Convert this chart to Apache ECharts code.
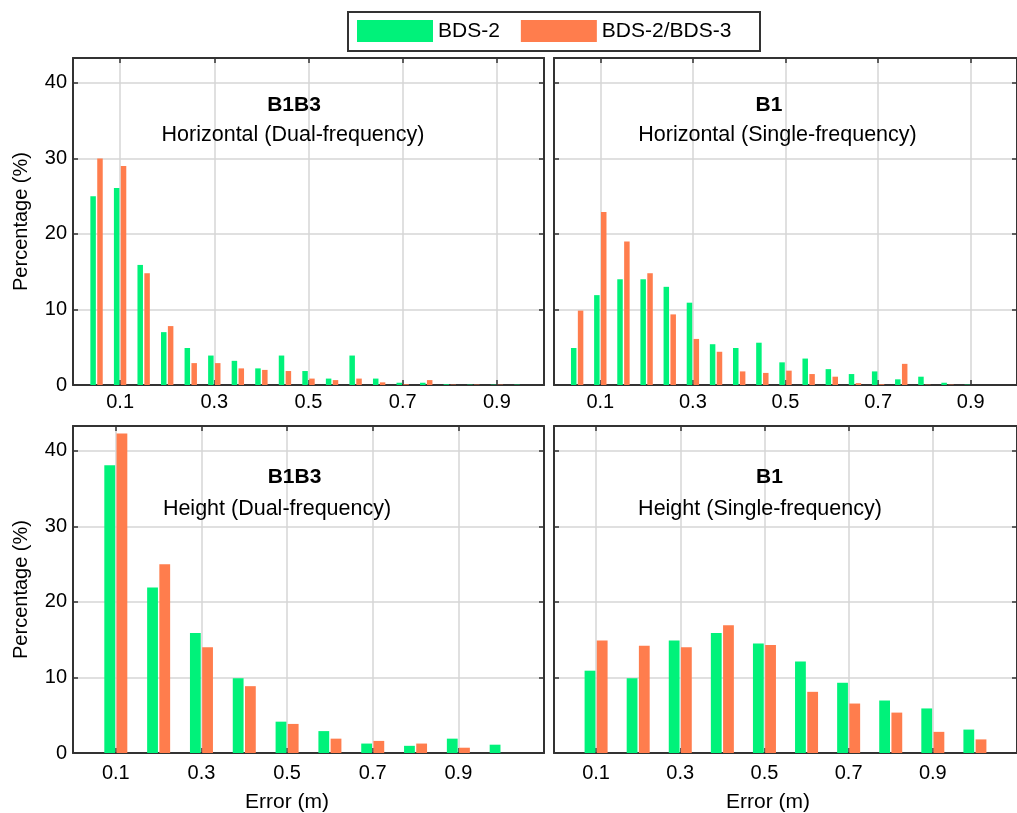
<!DOCTYPE html>
<html>
<head>
<meta charset="utf-8">
<script src="https://cdn.jsdelivr.net/npm/echarts@6/dist/echarts.min.js"></script>
<style>
html,body{margin:0;padding:0;background:#fff;}
#c{width:1017px;height:813px;}
</style>
</head>
<body>
<div id="c"></div>
<script>
// ---------- data ----------
const seriesNames = ['BDS-2', 'BDS-2/BDS-3'];
const seriesColors = ['#00f27a', '#ff7d4d'];

const xTickValues = [0.1, 0.3, 0.5, 0.7, 0.9];
const yTickValues = [0, 10, 20, 30, 40];

// horizontal error bins (0.05 m)
const binsHorizontal = [0.05, 0.10, 0.15, 0.20, 0.25, 0.30, 0.35, 0.40, 0.45, 0.50,
                        0.55, 0.60, 0.65, 0.70, 0.75, 0.80, 0.85, 0.90, 0.95];
// height error bins (0.1 m)
const binsHeight = [0.1, 0.2, 0.3, 0.4, 0.5, 0.6, 0.7, 0.8, 0.9, 1.0];

// B1B3 Horizontal (Dual-frequency)
const b1b3HorBDS2  = [25.0, 26.1, 15.9, 7.0, 4.9, 3.9, 3.2, 2.2, 3.9, 1.85, 0.85, 3.9, 0.85, 0.3, 0.3, 0.1, 0.05, 0.05, 0.05];
const b1b3HorBDS23 = [30.0, 29.0, 14.8, 7.8, 2.9, 2.9, 2.2, 2.0, 1.85, 0.85, 0.65, 0.85, 0.35, 0.1, 0.65, 0.05, 0.05, 0.05, 0];
// B1 Horizontal (Single-frequency)
const b1HorBDS2  = [4.9, 11.9, 14.0, 14.0, 13.0, 10.9, 5.4, 4.9, 5.6, 3.0, 3.5, 2.1, 1.45, 1.8, 0.75, 1.1, 0.3, 0.05, 0];
const b1HorBDS23 = [9.85, 22.9, 19.0, 14.8, 9.35, 6.1, 4.4, 1.8, 1.6, 1.9, 1.45, 1.1, 0.25, 0.1, 2.8, 0.05, 0.05, 0, 0];
// B1B3 Height (Dual-frequency)
const b1b3HgtBDS2  = [38.1, 21.9, 15.9, 9.9, 4.15, 2.9, 1.25, 0.95, 1.9, 1.1];
const b1b3HgtBDS23 = [42.3, 25.0, 14.0, 8.85, 3.85, 1.9, 1.6, 1.25, 0.7, 0];
// B1 Height (Single-frequency)
const b1HgtBDS2  = [10.9, 9.9, 14.9, 15.9, 14.5, 12.1, 9.3, 6.95, 5.9, 3.1];
const b1HgtBDS23 = [14.9, 14.2, 14.0, 16.9, 14.3, 8.1, 6.55, 5.35, 2.8, 1.8];

const panelTitles = ['B1B3', 'B1', 'B1B3', 'B1'];
const panelSubtitles = ['Horizontal (Dual-frequency)', 'Horizontal (Single-frequency)',
                        'Height (Dual-frequency)', 'Height (Single-frequency)'];
const yAxisTitle = 'Percentage (%)';
const xAxisTitle = 'Error (m)';

// ---------- layout ----------
const FONT = '"Liberation Sans", Arial, Helvetica, sans-serif';
const AX = '#333333';
const GRIDC = '#d6d6d6';
const YMAX = 43.3;

const panels = [
  {left: 73,  top: 58,  xMax: 1.0, bins: binsHorizontal, vals: [b1b3HorBDS2, b1b3HorBDS23], bw: 5.5,  gap: '25%', yLab: true,  xName: false, lm: 7,
   title: [294, 105.5], sub: [293, 135]},
  {left: 554, top: 58,  xMax: 1.0, bins: binsHorizontal, vals: [b1HorBDS2, b1HorBDS23],   bw: 5.5,  gap: '25%', yLab: false, xName: false, lm: 7,
   title: [769, 105.5], sub: [777.5, 135]},
  {left: 73,  top: 426, xMax: 1.1, bins: binsHeight, vals: [b1b3HgtBDS2, b1b3HgtBDS23], bw: 10.8, gap: '13%', yLab: true,  xName: true, lm: 10,
   title: [294.5, 477.5], sub: [277, 509]},
  {left: 554, top: 426, xMax: 1.1, bins: binsHeight, vals: [b1HgtBDS2, b1HgtBDS23],     bw: 10.8, gap: '13%', yLab: false, xName: true, lm: 10,
   title: [769.5, 477.5], sub: [760, 509]}
];
const PW = 471, PH = 327;

const grid = [], xAxis = [], yAxis = [], series = [], graphic = [];

panels.forEach((p, i) => {
  grid.push({left: p.left, top: p.top, width: PW, height: PH, containLabel: false});
  const lineStyle = {color: AX, width: 2};
  // bottom x
  xAxis.push({
    type: 'value', gridIndex: i, min: 0, max: p.xMax, position: 'bottom',
    axisLine: {show: true, onZero: false, lineStyle},
    axisTick: {show: true, inside: true, length: 5, customValues: xTickValues, lineStyle: {color: AX, width: 1.5}},
    axisLabel: {show: true, customValues: xTickValues, margin: p.lm, fontSize: 20, color: '#000', fontFamily: FONT,
                formatter: v => Number(v).toFixed(1)},
    splitLine: {show: true, lineStyle: {color: GRIDC, width: 1.5}}
  });
  // top x (box + ticks)
  xAxis.push({
    type: 'value', gridIndex: i, min: 0, max: p.xMax, position: 'top',
    axisLine: {show: true, onZero: false, lineStyle},
    axisTick: {show: true, inside: true, length: 5, customValues: xTickValues, lineStyle: {color: AX, width: 1.5}},
    axisLabel: {show: false},
    splitLine: {show: false}
  });
  // left y
  yAxis.push({
    type: 'value', gridIndex: i, min: 0, max: YMAX, position: 'left',
    axisLine: {show: true, onZero: false, lineStyle},
    axisTick: {show: true, inside: true, length: 5, customValues: yTickValues, lineStyle: {color: AX, width: 1.5}},
    axisLabel: {show: p.yLab, customValues: yTickValues, margin: 6, fontSize: 20, color: '#000', fontFamily: FONT},
    splitLine: {show: true, lineStyle: {color: GRIDC, width: 1.5}}
  });
  // right y
  yAxis.push({
    type: 'value', gridIndex: i, min: 0, max: YMAX, position: 'right',
    axisLine: {show: true, onZero: false, lineStyle},
    axisTick: {show: true, inside: true, length: 5, customValues: yTickValues, lineStyle: {color: AX, width: 1.5}},
    axisLabel: {show: false},
    splitLine: {show: false}
  });

  seriesNames.forEach((name, s) => {
    series.push({
      type: 'bar', name, xAxisIndex: 2 * i, yAxisIndex: 2 * i,
      data: p.bins.map((b, j) => [b, p.vals[s][j]]),
      barWidth: p.bw, barGap: p.gap,
      itemStyle: {color: seriesColors[s]},
      emphasis: {disabled: true}, silent: true
    });
  });

  graphic.push({
    type: 'text', x: p.title[0], y: p.title[1], z: 10,
    style: {text: panelTitles[i], fill: '#000', font: 'bold 21px ' + FONT,
            align: 'center', verticalAlign: 'middle', textAlign: 'center', textVerticalAlign: 'middle'}
  });
  graphic.push({
    type: 'text', x: p.sub[0], y: p.sub[1], z: 10,
    style: {text: panelSubtitles[i], fill: '#000', font: '21.5px ' + FONT,
            align: 'center', verticalAlign: 'middle', textAlign: 'center', textVerticalAlign: 'middle'}
  });
  if (p.yLab) {
    graphic.push({
      type: 'text', x: 21, y: p.top + PH / 2, rotation: Math.PI / 2, z: 10,
      style: {text: yAxisTitle, fill: '#000', font: '20px ' + FONT,
              align: 'center', verticalAlign: 'middle', textAlign: 'center', textVerticalAlign: 'middle'}
    });
  }
  if (p.xName) {
    graphic.push({
      type: 'text', x: p.left + PW * 0.5 / p.xMax, y: 802, z: 10,
      style: {text: xAxisTitle, fill: '#000', font: '21px ' + FONT,
              align: 'center', verticalAlign: 'middle', textAlign: 'center', textVerticalAlign: 'middle'}
    });
  }
});

// legend frame
graphic.push({
  type: 'rect', z: 10,
  shape: {x: 348, y: 12, width: 412, height: 39},
  style: {fill: 'none', stroke: AX, lineWidth: 2}
});

const chart = echarts.init(document.getElementById('c'), null, {renderer: 'canvas'});
chart.setOption({
  animation: false,
  backgroundColor: '#fff',
  legend: {
    show: true, left: 357, top: 20, padding: 0, itemWidth: 76, itemHeight: 22, itemGap: 21,
    icon: 'rect', selectedMode: false, data: seriesNames,
    textStyle: {fontSize: 21, color: '#000', fontFamily: FONT}
  },
  grid, xAxis, yAxis, series, graphic
});
</script>
</body>
</html>
